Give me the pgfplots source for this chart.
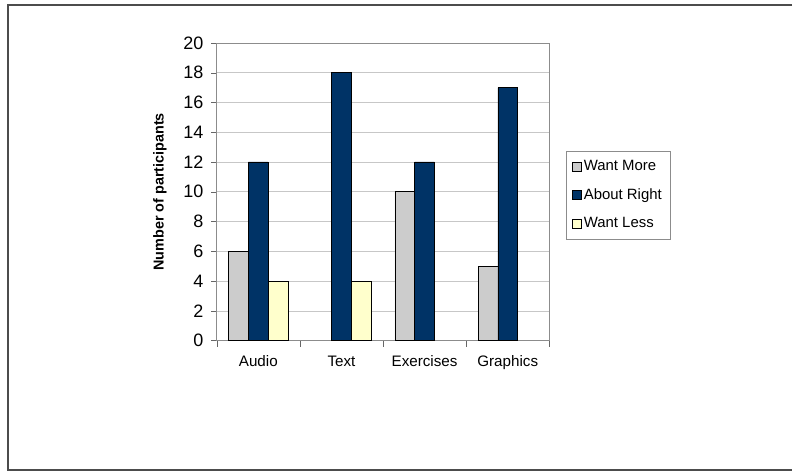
\documentclass[border=0pt]{standalone}
\usepackage{pgfplots}
\pgfplotsset{compat=1.18}
\usepackage{fontspec}
\setmainfont{Liberation Sans}
\definecolor{wmore}{HTML}{CCCCCC}
\definecolor{aright}{HTML}{003366}
\definecolor{wless}{HTML}{FFFFCC}
\begin{document}
\begin{tikzpicture}
\path (-162.75pt,-99pt) rectangle (432pt,255.75pt);
\draw[line width=1.5pt, color=black!70] (432pt,252pt) -- (-156.75pt,252pt) -- (-156.75pt,-97.5pt) -- (432pt,-97.5pt);
\begin{axis}[
  at={(0pt,0pt)}, anchor=south west, scale only axis,
  width=249.75pt, height=223.5pt,
  ybar,
  xmin=-0.5, xmax=3.5, ymin=0, ymax=20,
  ytick={0,2,...,20},
  xtick={0,1,2,3},
  xticklabels={Audio,Text,Exercises,Graphics},
  minor xtick={-0.5,0.5,1.5,2.5,3.5},
  major x tick style={draw=none},
  tick align=outside,
  xtick pos=bottom, ytick pos=left,
  major tick length=4pt, minor tick length=4.5pt,
  tick style={draw=black!60},
  axis line style={draw=black!45},
  ymajorgrids,
  grid style={draw=black!22},
  /pgf/number format/assume math mode=true,
  yticklabel style={font=\fontsize{13.5}{14}\selectfont, xshift=-2.5pt},
  xticklabel style={font=\fontsize{11.4}{12}\selectfont, yshift=-4pt},
  ylabel={Number of participants},
  every axis y label/.style={at={(rel axis cs:0,0.5)}, xshift=-42.75pt, rotate=90, anchor=center,
    font=\fontsize{10.8}{12}\selectfont\bfseries},
  bar width=0.238,
  legend style={at={(rel axis cs:1.051,0.6376)}, anchor=north west, draw=black!45,
    font=\fontsize{11.2}{12}\selectfont, row sep=8pt, inner xsep=4pt, inner ysep=5pt,
    cells={anchor=west}},
  legend image code/.code={\draw[#1,draw=black] (0pt,-3.3pt) rectangle (6.6pt,3.3pt);},
]
\addplot[fill=wmore, draw=black, bar shift=-0.238] coordinates {(0,6) (2,10) (3,5)};
\addplot[fill=aright, draw=black, bar shift=0] coordinates {(0,12) (1,18) (2,12) (3,17)};
\addplot[fill=wless, draw=black, bar shift=0.238] coordinates {(0,4) (1,4)};
\legend{Want More, About Right, Want Less}
\end{axis}
\end{tikzpicture}
\end{document}
